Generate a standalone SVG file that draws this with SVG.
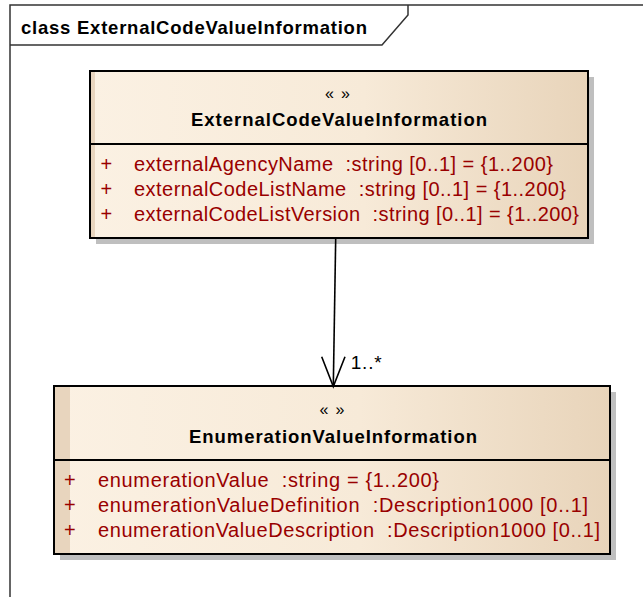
<svg xmlns="http://www.w3.org/2000/svg" width="643" height="597" viewBox="0 0 643 597">
<defs>
<linearGradient id="fill" x1="0" y1="0" x2="1" y2="0">
<stop offset="0" stop-color="#FBF1E3"/>
<stop offset="0.55" stop-color="#F7EAD8"/>
<stop offset="1" stop-color="#E8D4BA"/>
</linearGradient>
</defs>
<style>
text{white-space:pre}
.frame{fill:none;stroke:#333;stroke-width:1.5}
.box{fill:url(#fill);stroke:#000;stroke-width:2}
.shadow{fill:#BFBFBF}
.stripe{fill:#E8D5BE}
.div{stroke:#000;stroke-width:2}
.title{font-family:"Liberation Sans",Arial,sans-serif;font-weight:bold;font-size:18.5px;fill:#000}
.stereo{font-family:"Liberation Sans",Arial,sans-serif;font-size:16px;fill:#000}
.attr{font-family:"Liberation Sans",Arial,sans-serif;font-size:20px;fill:#990000}
.lbl{font-family:"Liberation Sans",Arial,sans-serif;font-size:19px;fill:#000}
.conn{fill:none;stroke:#000;stroke-width:1.6}
</style>
<rect width="643" height="597" fill="#fff"/>
<g id="frame">
<path class="frame" d="M10,597 V5 H643"/>
<path class="frame" d="M10,45 H382 L408,15 V5"/>
<text class="title" x="21" y="33.5" textLength="346" lengthAdjust="spacing">class ExternalCodeValueInformation</text>
</g>
<g id="node-ExternalCodeValueInformation">
<rect class="shadow" x="96" y="77" width="498" height="167"/>
<rect class="box" x="90" y="71" width="498" height="167"/>
<rect class="stripe" x="91" y="72" width="4" height="165"/>
<line class="div" x1="90" y1="144" x2="588" y2="144"/>
<text class="stereo" x="325" y="99" textLength="25" lengthAdjust="spacing">« »</text>
<text class="title" x="191" y="125.5" textLength="296" lengthAdjust="spacing">ExternalCodeValueInformation</text>
<text class="attr" x="100.5" y="170.5">+</text>
<text class="attr" x="134" y="170.5" textLength="419" lengthAdjust="spacing">externalAgencyName  :string [0..1] = {1..200}</text>
<text class="attr" x="100.5" y="195.5">+</text>
<text class="attr" x="134" y="195.5" textLength="432" lengthAdjust="spacing">externalCodeListName  :string [0..1] = {1..200}</text>
<text class="attr" x="100.5" y="221">+</text>
<text class="attr" x="134" y="221" textLength="445" lengthAdjust="spacing">externalCodeListVersion  :string [0..1] = {1..200}</text>
</g>
<g id="node-EnumerationValueInformation">
<rect class="shadow" x="60" y="392" width="556" height="168"/>
<rect class="box" x="54" y="386" width="556" height="168"/>
<rect class="stripe" x="55" y="387" width="15" height="166"/>
<line class="div" x1="54" y1="460" x2="610" y2="460"/>
<text class="stereo" x="319.5" y="415" textLength="25" lengthAdjust="spacing">« »</text>
<text class="title" x="189" y="443" textLength="288" lengthAdjust="spacing">EnumerationValueInformation</text>
<text class="attr" x="64" y="486.5">+</text>
<text class="attr" x="98" y="486.5" textLength="341" lengthAdjust="spacing">enumerationValue  :string = {1..200}</text>
<text class="attr" x="64" y="511.5">+</text>
<text class="attr" x="98" y="511.5" textLength="490" lengthAdjust="spacing">enumerationValueDefinition  :Description1000 [0..1]</text>
<text class="attr" x="64" y="537">+</text>
<text class="attr" x="98" y="537" textLength="502" lengthAdjust="spacing">enumerationValueDescription  :Description1000 [0..1]</text>
</g>
<g id="connectors">
<line class="conn" x1="335.7" y1="238" x2="333.3" y2="386"/>
<polyline class="conn" points="321.7,356.7 333.3,386.5 345,356.7"/>
<text class="lbl" x="350.7" y="369.3" textLength="31" lengthAdjust="spacing">1..*</text>
</g>
</svg>
